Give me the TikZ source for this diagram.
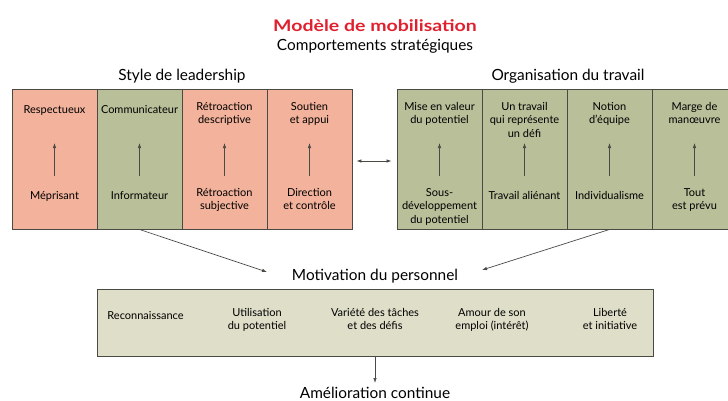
\documentclass[tikz,border=0pt]{standalone}
\usepackage{fontspec}
\setmainfont{Lato}
\newfontfamily\titrefont{Lato}[FakeStretch=1.22]
\usetikzlibrary{arrows.meta}
\usetikzlibrary{positioning}
\usetikzlibrary{calc}

\definecolor{saumon}{HTML}{F2B29B}
\definecolor{olive}{HTML}{B8BF99}
\definecolor{beige}{HTML}{DEDEC9}
\definecolor{rouge}{HTML}{E0202E}
\definecolor{bord}{HTML}{4A4A44}

\begin{document}
\begin{tikzpicture}[x=1pt,y=-1pt,
    col/.style={draw=bord,line width=0.9pt,minimum width=85pt,minimum height=140pt,inner sep=0pt},
    lab/.style={align=center,font=\fontsize{11}{13.5}\selectfont,inner sep=0pt,anchor=north,
      execute at begin node=\rule{0pt}{11pt}},
    titre/.style={font=\fontsize{15.4}{18}\selectfont,inner sep=0pt,anchor=base},
    fl/.style={-{Latex[length=5pt,width=3.5pt]},line width=0.7pt,draw=bord}]
    \useasboundingbox (0,0) rectangle (728,400);

    % titre
    \node[titre,text=rouge,font=\fontsize{16}{18}\titrefont\bfseries] (modele) at (375,31) {Modèle de mobilisation};
    \node[titre] (comport) at (375,50) {Comportements stratégiques};
    \node[titre] (style) at (182,80) {Style de leadership};
    \node[titre] (orga) at (568,80) {Organisation du travail};

    % style de leadership
    \foreach \x/\c/\haut/\bas [count=\i] in {
      54.5/saumon/Respectueux/Méprisant,
      139.5/olive/Communicateur/Informateur,
      224.5/saumon/{Rétroaction\\descriptive}/{Rétroaction\\subjective},
      309.5/saumon/{Soutien\\et appui}/{Direction\\et contrôle}}{
      \node[col,fill=\c] (g\i) at (\x,159) {};
      \node[lab] (gh\i) at (\x,102) {\haut};
      \node[lab] (gb\i) at (\x,188) {\bas};
      \coordinate (gp\i) at (\x,176);
      \coordinate (gq\i) at (\x,143);
      \draw[fl] (gp\i) -- (gq\i);
    }

    % organisation du travail
    \foreach \x/\haut/\bas [count=\i] in {
      439.5/{Mise en valeur\\du potentiel}/{Sous-\\développement\\du potentiel},
      524.5/{Un travail\\qui représente\\un défi}/{Travail aliénant},
      609.5/{Notion\\d’équipe}/Individualisme,
      694.5/{Marge de\\manœuvre}/{Tout\\est prévu}}{
      \node[col,fill=olive] (o\i) at (\x,159) {};
      \node[lab] (oh\i) at (\x,102) {\haut};
      \node[lab] (ob\i) at (\x,188) {\bas};
      \coordinate (op\i) at (\x,176);
      \coordinate (oq\i) at (\x,143);
      \draw[fl] (op\i) -- (oq\i);
    }
    \draw[fl,{Latex[length=5pt,width=3.5pt]}-{Latex[length=5pt,width=3.5pt]}] ([xshift=4pt,yshift=-2pt]g4.east) -- ([xshift=-5pt,yshift=-2pt]o1.west);

    % motivation
    \node[titre] (motiv) at (375,280) {Motivation du personnel};
    \coordinate (mg) at (267,272);
    \coordinate (md) at (482,270);
    \draw[fl] (g2.south) -- (mg);
    \draw[fl] (o3.south) -- (md);

    \node[draw=bord,line width=0.9pt,fill=beige,minimum width=556pt,minimum height=67pt] (mbox) at (375,322.5) {};
    \foreach \x/\t [count=\i] in {145.5/Reconnaissance, 257/{Utilisation\\du potentiel},
      375/{Variété des tâches\\et des défis}, 492/{Amour de son\\emploi (intérêt)}, 610/{Liberté\\et initiative}}{
      \node[lab,font=\fontsize{11}{13}\selectfont] (m\i) at (\x,308) {\t};
    }

    \node[titre] (amelio) at (375,398) {Amélioration continue};
    \coordinate (mb) at (375,383);
    \draw[fl] (mbox.south) -- (mb);
\end{tikzpicture}
\end{document}
